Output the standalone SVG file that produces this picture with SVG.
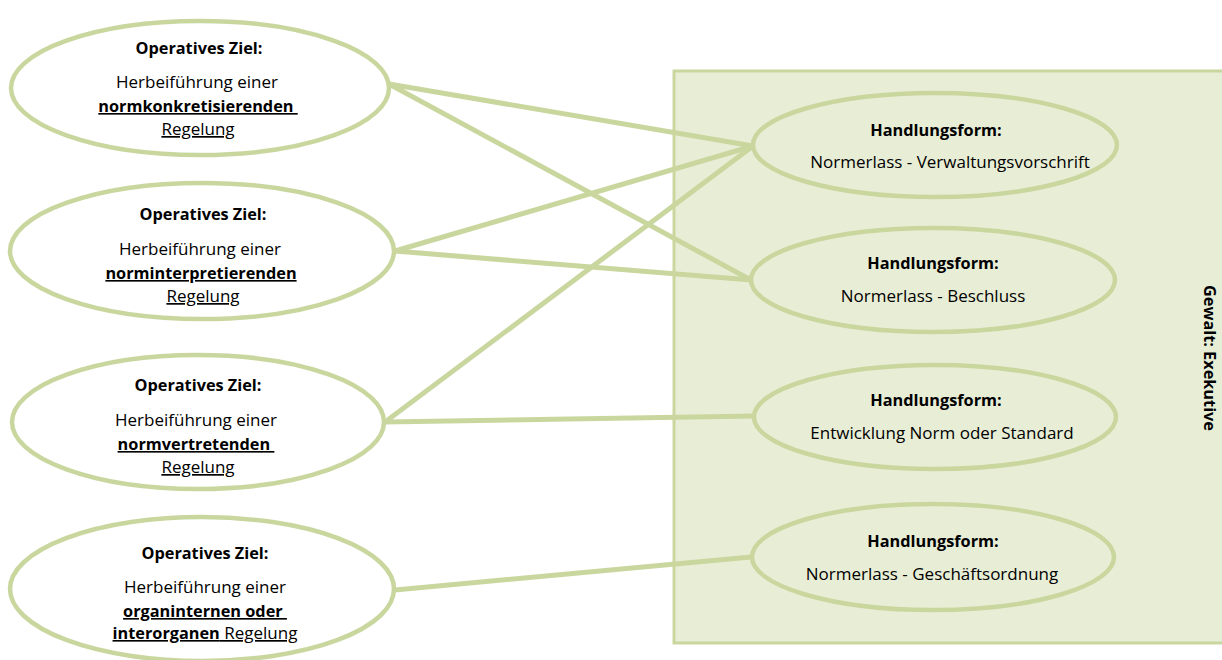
<svg xmlns="http://www.w3.org/2000/svg" width="1222" height="660" viewBox="0 0 1222 660">
<style>
text{font-family:"Open Sans","Noto Sans","Liberation Sans",sans-serif;font-size:17px;fill:#000;text-anchor:middle;white-space:pre}
.b{font-weight:bold;font-size:16.3px}
tspan.b{font-size:16.3px}
.u{text-decoration:underline}
.el{fill:#fff;stroke:#c9d79f;stroke-width:4.5}
.er{fill:#e8eed6;stroke:#c9d79f;stroke-width:4.5}
.c{stroke:#c9d79f;stroke-width:5;fill:none;stroke-linecap:round}
</style>
<g id="exekutive">
<rect x="674" y="71" width="560" height="572" fill="#e8eed6" stroke="#c9d79f" stroke-width="3"/>
<text class="b" transform="translate(1204,358) rotate(90)">Gewalt: Exekutive</text>
</g>
<g id="connectors">
<line class="c" x1="389" y1="84" x2="753" y2="146"/>
<line class="c" x1="389" y1="84" x2="751" y2="280"/>
<line class="c" x1="395" y1="251" x2="753" y2="146"/>
<line class="c" x1="395" y1="251" x2="751" y2="280"/>
<line class="c" x1="385" y1="422" x2="753" y2="146"/>
<line class="c" x1="385" y1="422" x2="754" y2="416"/>
<line class="c" x1="395" y1="590" x2="751" y2="557"/>
</g>
<g id="ziel1">
<ellipse class="el" cx="200" cy="88" rx="189" ry="67"/>
<text class="b" x="199" y="54">Operatives Ziel:</text>
<text x="197" y="88">Herbeiführung einer</text>
<text class="b u" x="198" y="112">normkonkretisierenden </text>
<text class="u" x="198" y="135">Regelung</text>
</g>
<g id="ziel2">
<ellipse class="el" cx="202" cy="251" rx="192" ry="68"/>
<text class="b" x="203" y="220">Operatives Ziel:</text>
<text x="200" y="255">Herbeiführung einer</text>
<text class="b u" x="201" y="279">norminterpretierenden</text>
<text class="u" x="203" y="302">Regelung</text>
</g>
<g id="ziel3">
<ellipse class="el" cx="198" cy="422" rx="186" ry="67"/>
<text class="b" x="198" y="391">Operatives Ziel:</text>
<text x="196" y="426">Herbeiführung einer</text>
<text class="b u" x="196" y="450">normvertretenden </text>
<text class="u" x="198" y="473">Regelung</text>
</g>
<g id="ziel4">
<ellipse class="el" cx="202" cy="589" rx="192" ry="72"/>
<text class="b" x="205" y="559">Operatives Ziel:</text>
<text x="205" y="593">Herbeiführung einer</text>
<text class="b u" x="205" y="617">organinternen oder </text>
<text class="u" x="205" y="639"><tspan class="b">interorganen</tspan> Regelung</text>
</g>
<g id="form1">
<ellipse class="er" cx="935" cy="145" rx="182" ry="52"/>
<text class="b" x="936" y="136">Handlungsform:</text>
<text x="950" y="168">Normerlass - Verwaltungsvorschrift</text>
</g>
<g id="form2">
<ellipse class="er" cx="933" cy="280" rx="182" ry="52"/>
<text class="b" x="933" y="269">Handlungsform:</text>
<text x="933" y="302">Normerlass - Beschluss</text>
</g>
<g id="form3">
<ellipse class="er" cx="935" cy="417" rx="181" ry="52"/>
<text class="b" x="936" y="406">Handlungsform:</text>
<text x="942" y="439">Entwicklung Norm oder Standard</text>
</g>
<g id="form4">
<ellipse class="er" cx="933" cy="557" rx="181" ry="53"/>
<text class="b" x="933" y="547">Handlungsform:</text>
<text x="932" y="580">Normerlass - Geschäftsordnung</text>
</g>
</svg>
